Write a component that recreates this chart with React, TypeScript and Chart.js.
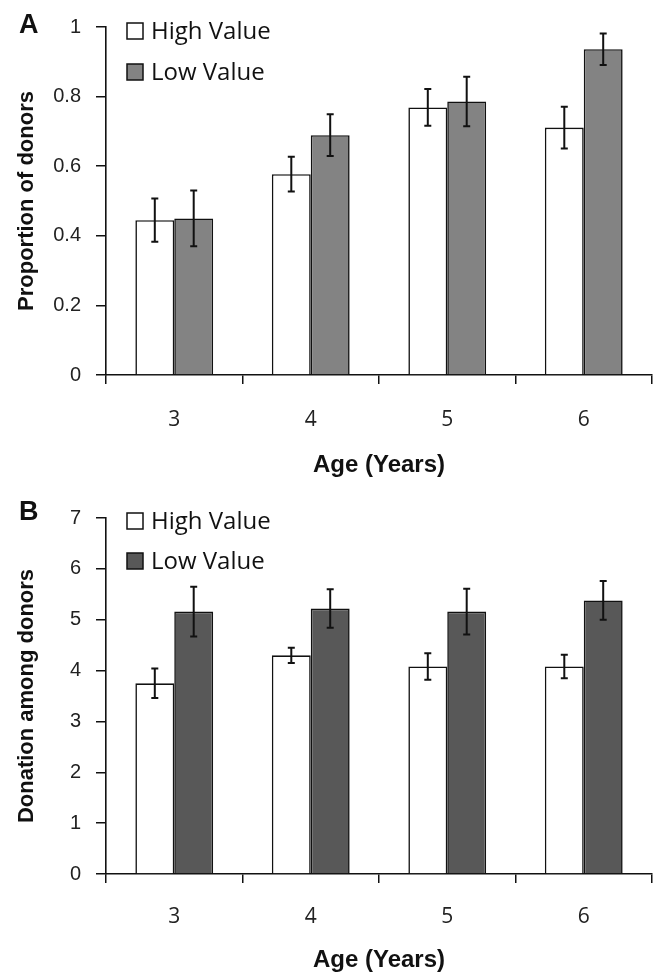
import React, { useEffect, useRef } from "react";
import { Chart, registerables } from "chart.js";
Chart.register(...registerables);

const ages = ["3", "4", "5", "6"];
const seriesNames = ["High Value", "Low Value"];

const propHigh = [0.445, 0.577, 0.769, 0.711];
const propHighErr = [0.062, 0.05, 0.053, 0.06];
const propLow = [0.45, 0.689, 0.786, 0.936];
const propLowErr = [0.08, 0.06, 0.071, 0.045];
const propTicks = [0, 0.2, 0.4, 0.6, 0.8, 1];

const donHigh = [3.75, 4.3, 4.08, 4.08];
const donHighErr = [0.29, 0.15, 0.26, 0.23];
const donLow = [5.16, 5.22, 5.16, 5.38];
const donLowErr = [0.49, 0.38, 0.45, 0.38];
const donTicks = [0, 1, 2, 3, 4, 5, 6, 7];

const Y_TICK_FONT = { family: "'Liberation Sans', Arial, sans-serif", size: 20 };
const X_TICK_FONT = { family: "'Open Sans', sans-serif", size: 21 };
const Y_TITLE_FONT = { family: "'Liberation Sans', Arial, sans-serif", size: 22, weight: "bold" as const };
const X_TITLE_FONT = { family: "'Liberation Sans', Arial, sans-serif", size: 24, weight: "bold" as const };

const errorBarPlugin = {
  id: "errorBars",
  afterDatasetsDraw(chart: any) {
    const ctx = chart.ctx;
    const y = chart.scales.y;
    chart.data.datasets.forEach((ds: any, i: number) => {
      const meta = chart.getDatasetMeta(i);
      meta.data.forEach((bar: any, j: number) => {
        const v = ds.data[j];
        const e = ds.errors[j];
        const yt = y.getPixelForValue(v + e);
        const yb = y.getPixelForValue(v - e);
        ctx.save();
        ctx.strokeStyle = "#111";
        ctx.lineWidth = 2;
        ctx.beginPath();
        ctx.moveTo(bar.x, yt);
        ctx.lineTo(bar.x, yb);
        ctx.moveTo(bar.x - 3.5, yt);
        ctx.lineTo(bar.x + 3.5, yt);
        ctx.moveTo(bar.x - 3.5, yb);
        ctx.lineTo(bar.x + 3.5, yb);
        ctx.stroke();
        ctx.restore();
      });
    });
  },
};

const legendPlugin = {
  id: "innerLegend",
  afterDraw(chart: any) {
    const opts = chart.options.plugins.innerLegend;
    const ctx = chart.ctx;
    const left = chart.chartArea.left + 21;
    ctx.save();
    chart.data.datasets.forEach((ds: any, i: number) => {
      const cy = opts.top + i * opts.gap;
      ctx.fillStyle = ds.backgroundColor;
      ctx.fillRect(left, cy - 8, 16, 16);
      ctx.strokeStyle = "#111";
      ctx.lineWidth = 1.5;
      ctx.strokeRect(left, cy - 8, 16, 16);
      ctx.fillStyle = "#111";
      ctx.font = "24px 'Open Sans', sans-serif";
      ctx.textBaseline = "middle";
      ctx.textAlign = "left";
      ctx.fillText(ds.label, left + 24, cy + 1);
    });
    ctx.restore();
  },
};

type PanelProps = {
  high: number[];
  highErr: number[];
  low: number[];
  lowErr: number[];
  lowColor: string;
  ticks: number[];
  yTitle: string;
  padTop: number;
  xHeight: number;
  xTickPad: number;
  xTitlePadBottom: number;
  legendTop: number;
  legendGap: number;
};

function Panel(p: PanelProps) {
  const ref = useRef<HTMLCanvasElement>(null);
  useEffect(() => {
    const chart = new Chart(ref.current!, {
      type: "bar",
      data: {
        labels: ages,
        datasets: [
          {
            label: seriesNames[0],
            data: p.high,
            errors: p.highErr,
            backgroundColor: "#ffffff",
            borderColor: "#111",
            borderWidth: 1.6,
            categoryPercentage: 0.57,
            barPercentage: 1,
          } as any,
          {
            label: seriesNames[1],
            data: p.low,
            errors: p.lowErr,
            backgroundColor: p.lowColor,
            borderColor: "#111",
            borderWidth: 1.6,
            categoryPercentage: 0.57,
            barPercentage: 1,
          } as any,
        ],
      },
      options: {
        animation: false,
        responsive: false,
        devicePixelRatio: 1,
        layout: { padding: { left: 0, top: p.padTop, right: 8, bottom: 0 } },
        plugins: {
          legend: { display: false },
          tooltip: { enabled: false },
          innerLegend: { top: p.legendTop, gap: p.legendGap },
        } as any,
        scales: {
          x: {
            afterFit: (s: any) => {
              s.height = p.xHeight;
            },
            grid: {
              display: true,
              drawOnChartArea: false,
              drawTicks: true,
              tickLength: 9,
              color: "#111",
              lineWidth: 1.5,
              offset: true,
            },
            border: { display: true, color: "#111", width: 1.6 },
            ticks: { color: "#222", font: X_TICK_FONT, padding: p.xTickPad },
            title: {
              display: true,
              text: "Age (Years)",
              color: "#111",
              font: X_TITLE_FONT,
              padding: { top: 0, bottom: p.xTitlePadBottom },
            },
          },
          y: {
            min: p.ticks[0],
            max: p.ticks[p.ticks.length - 1],
            afterFit: (s: any) => {
              s.width = 106;
            },
            afterBuildTicks: (s: any) => {
              s.ticks = p.ticks.map((v) => ({ value: v }));
            },
            grid: {
              display: true,
              drawOnChartArea: false,
              drawTicks: true,
              tickLength: 10,
              color: "#111",
              lineWidth: 1.5,
            },
            border: { display: true, color: "#111", width: 1.6 },
            ticks: { color: "#222", font: Y_TICK_FONT, padding: 15, callback: (v: any) => String(v) },
            title: {
              display: true,
              text: p.yTitle,
              color: "#111",
              font: Y_TITLE_FONT,
              padding: { top: 14, bottom: 0 },
            },
          },
        },
      },
      plugins: [errorBarPlugin, legendPlugin],
    });
    return () => chart.destroy();
  }, []);
  return <canvas ref={ref} width={660} height={487} style={{ display: "block", width: 660, height: 487 }} />;
}

const panelLetter: React.CSSProperties = {
  position: "absolute",
  left: 19,
  fontFamily: "'Liberation Sans', Arial, sans-serif",
  fontWeight: "bold",
  fontSize: 27,
  lineHeight: "27px",
  color: "#111",
};

export default function App() {
  return (
    <div style={{ position: "absolute", left: 0, top: 0, width: 660, height: 974, overflow: "hidden", background: "#fff" }}>
      <Panel
        high={propHigh}
        highErr={propHighErr}
        low={propLow}
        lowErr={propLowErr}
        lowColor="#838383"
        ticks={propTicks}
        yTitle="Proportion of donors"
        padTop={16}
        xHeight={112}
        xTickPad={23}
        xTitlePadBottom={7.6}
        legendTop={31}
        legendGap={41}
      />
      <Panel
        high={donHigh}
        highErr={donHighErr}
        low={donLow}
        lowErr={donLowErr}
        lowColor="#585858"
        ticks={donTicks}
        yTitle="Donation among donors"
        padTop={31}
        xHeight={100}
        xTickPad={21}
        xTitlePadBottom={-1}
        legendTop={34}
        legendGap={40}
      />
      <div style={{ ...panelLetter, top: 11 }}>A</div>
      <div style={{ ...panelLetter, top: 498 }}>B</div>
    </div>
  );
}
